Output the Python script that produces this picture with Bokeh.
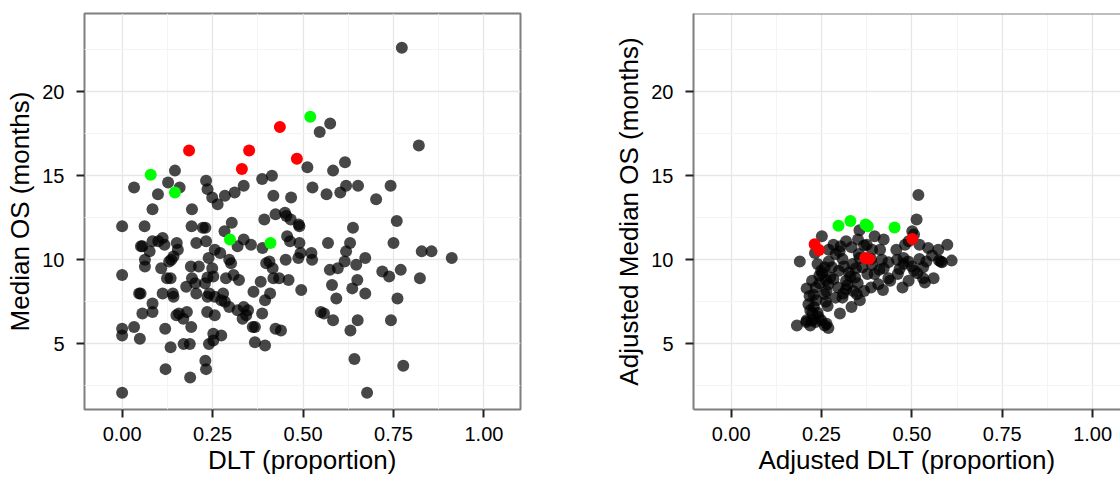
from bokeh.plotting import figure
from bokeh.models import FixedTicker, NumeralTickFormatter, Range1d, Span
from bokeh.layouts import row
from bokeh.embed import file_html
from bokeh.resources import INLINE

# ---------------- axes / ticks ----------------
x_ticks = [0.0, 0.25, 0.5, 0.75, 1.0]
x_minor = [0.125, 0.375, 0.625, 0.875]
y_ticks = [5, 10, 15, 20]
y_minor = [2.5, 7.5, 12.5, 17.5, 22.5]

left_xlabel = "DLT (proportion)"
left_ylabel = "Median OS (months)"
right_xlabel = "Adjusted DLT (proportion)"
right_ylabel = "Adjusted Median OS (months)"

# ---------------- left panel data ----------------
left_dlt = [0.773, 0.82, 0.575, 0.546, 0.512, 0.583, 0.616, 0.526, 0.565, 0.603,
            0.619, 0.652, 0.742, 0.702, 0.414, 0.387, 0.336, 0.311, 0.284, 0.232,
            0.236, 0.249, 0.264, 0.146, 0.127, 0.159, 0.099, 0.033, 0.084, 0.193,
            0.418, 0.467, 0.393, 0.424, 0.450, 0.454, 0.466, 0.488, 0.490, 0.303,
            0.283, 0.230, 0.223, 0.192, 0.062, 0.0, 0.638, 0.759, 0.456, 0.464,
            0.490, 0.569, 0.630, 0.750, 0.336, 0.356, 0.319, 0.388, 0.232, 0.205,
            0.151, 0.154, 0.112, 0.100, 0.117, 0.084, 0.056, 0.052, 0.076, 0.063,
            0.063, 0.0, 0.256, 0.271, 0.239, 0.296, 0.301, 0.249, 0.212, 0.190,
            0.108, 0.136, 0.142, 0.130, 0.134, 0.124, 0.112, 0.140, 0.142, 0.051,
            0.047, 0.084, 0.084, 0.056, 0.0, 0.0, 0.033, 0.049, 0.119, 0.134,
            0.12, 0.0, 0.188, 0.230, 0.232, 0.240, 0.252, 0.252, 0.274, 0.170,
            0.187, 0.191, 0.169, 0.157, 0.179, 0.150, 0.177, 0.193, 0.202, 0.205,
            0.229, 0.236, 0.252, 0.241, 0.256, 0.236, 0.274, 0.279, 0.284, 0.296,
            0.235, 0.256, 0.287, 0.308, 0.323, 0.319, 0.336, 0.348, 0.333, 0.343,
            0.361, 0.367, 0.363, 0.383, 0.395, 0.409, 0.387, 0.398, 0.407, 0.416,
            0.418, 0.434, 0.367, 0.395, 0.424, 0.439, 0.452, 0.460, 0.487, 0.495,
            0.523, 0.525, 0.493, 0.549, 0.558, 0.583, 0.574, 0.596, 0.580, 0.592,
            0.615, 0.619, 0.647, 0.650, 0.636, 0.672, 0.672, 0.651, 0.631, 0.642,
            0.677, 0.719, 0.738, 0.770, 0.761, 0.743, 0.777, 0.823, 0.828, 0.855,
            0.911]
left_os = [22.6, 16.8, 18.1, 17.6, 15.5, 15.3, 15.8, 14.3, 13.9, 14.0,
           14.4, 14.4, 14.4, 13.6, 15.0, 14.8, 14.4, 14.0, 13.8, 14.7,
           14.2, 13.7, 13.3, 15.3, 14.6, 14.3, 13.9, 14.3, 13.0, 13.0,
           13.8, 13.7, 12.4, 12.7, 12.8, 12.6, 12.4, 12.1, 12.0, 12.2,
           11.7, 11.9, 11.9, 12.0, 12.0, 12.0, 11.9, 12.3, 11.4, 11.1,
           11.0, 11.0, 11.0, 11.0, 11.2, 10.9, 10.8, 10.7, 11.1, 11.0,
           11.0, 10.6, 11.3, 11.1, 10.9, 11.1, 10.8, 10.8, 10.5, 10.0,
           9.6, 9.1, 10.6, 10.4, 10.1, 10.0, 9.8, 9.5, 9.6, 9.6,
           9.5, 10.0, 10.2, 9.9, 8.9, 8.9, 8.0, 8.0, 7.8, 8.0,
           8.0, 7.4, 6.9, 6.8, 5.9, 5.5, 6.0, 5.3, 5.9, 4.8,
           3.5, 2.1, 3.0, 4.0, 3.5, 5.0, 5.2, 5.6, 5.5, 5.0,
           5.0, 6.0, 6.5, 6.8, 6.9, 6.7, 8.4, 8.9, 8.6, 8.0,
           8.6, 8.95, 9.0, 8.0, 7.8, 7.8, 7.6, 8.0, 7.5, 7.2,
           6.9, 6.7, 8.9, 9.1, 8.8, 7.0, 7.2, 7.0, 6.5, 6.7,
           6.0, 6.0, 8.1, 8.7, 7.6, 8.0, 6.8, 9.8, 9.9, 9.5,
           8.9, 8.9, 5.1, 4.9, 5.9, 5.8, 10.0, 8.8, 10.1, 8.2,
           10.4, 10.0, 10.4, 6.9, 6.8, 6.4, 9.4, 9.5, 8.5, 7.7,
           9.9, 10.5, 9.7, 8.8, 8.3, 10.1, 8.0, 6.4, 5.8, 4.1,
           2.1, 9.3, 9.0, 9.4, 7.7, 6.4, 3.7, 8.9, 10.5, 10.5,
           10.1]
left_red_dlt = [0.185, 0.351, 0.331, 0.436, 0.483]
left_red_os = [16.5, 16.5, 15.4, 17.9, 16.0]
left_green_dlt = [0.079, 0.146, 0.298, 0.410, 0.520]
left_green_os = [15.05, 14.0, 11.2, 11.0, 18.5]

# ---------------- right panel data ----------------
right_dlt = [0.518, 0.513, 0.501, 0.506, 0.190, 0.182, 0.208, 0.219, 0.234, 0.249,
             0.264, 0.269, 0.259, 0.251, 0.355, 0.351, 0.375, 0.397, 0.422, 0.390,
             0.417, 0.422, 0.440, 0.420, 0.387, 0.356, 0.333, 0.301, 0.457, 0.459,
             0.474, 0.491, 0.481, 0.545, 0.573, 0.598, 0.583, 0.610, 0.536, 0.560,
             0.531, 0.506, 0.521, 0.556, 0.477, 0.466, 0.289, 0.279, 0.249, 0.234,
             0.217, 0.209, 0.229, 0.239, 0.267, 0.289, 0.308, 0.296, 0.318, 0.326,
             0.336, 0.308, 0.303, 0.283, 0.318, 0.269, 0.259, 0.274, 0.343, 0.348,
             0.368, 0.377, 0.397, 0.407, 0.363, 0.387, 0.239, 0.232, 0.259, 0.244,
             0.219, 0.224, 0.477, 0.531, 0.491, 0.521, 0.461, 0.435, 0.412, 0.353,
             0.368, 0.333, 0.298, 0.283, 0.318, 0.338, 0.264, 0.224, 0.214, 0.209,
             0.575, 0.435, 0.580, 0.245, 0.252, 0.236, 0.228, 0.262, 0.270, 0.300,
             0.312, 0.322, 0.330, 0.345, 0.350, 0.355, 0.310, 0.262, 0.225, 0.242,
             0.270, 0.390, 0.410, 0.490, 0.500, 0.515, 0.540]
right_os = [13.85, 12.4, 11.7, 11.5, 9.9, 6.1, 6.3, 6.1, 6.3, 6.4,
            6.2, 5.95, 6.1, 11.4, 11.75, 11.2, 10.9, 11.4, 11.2, 10.6,
            10.0, 9.5, 8.75, 8.2, 8.35, 7.6, 7.2, 6.8, 10.6, 10.0,
            8.35, 8.75, 10.9, 10.7, 10.6, 10.9, 9.85, 9.95, 8.65, 8.9,
            9.55, 9.35, 10.05, 10.25, 9.75, 9.45, 10.35, 9.55, 9.35, 8.35,
            7.85, 8.3, 7.2, 6.85, 7.25, 7.75, 7.75, 8.35, 8.75, 9.25,
            9.75, 10.05, 10.8, 10.9, 11.1, 8.55, 7.95, 8.95, 8.95, 7.95,
            8.15, 9.15, 9.15, 8.55, 9.55, 10.05, 9.75, 10.4, 9.55, 9.05,
            7.0, 6.4, 10.1, 8.9, 11.1, 10.9, 9.15, 9.85, 10.6, 10.35,
            10.85, 10.75, 9.35, 8.85, 8.25, 8.15, 8.15, 8.75, 7.35, 6.4,
            9.95, 8.9, 9.9, 8.6, 9.2, 7.6, 7.9, 8.8, 9.9, 10.5,
            9.6, 8.5, 9.0, 9.5, 8.6, 10.1, 8.0, 7.5, 6.8, 6.6,
            10.6, 9.7, 9.4, 9.9, 9.6, 9.2, 9.9]
right_red_dlt = [0.231, 0.243, 0.371, 0.382, 0.501]
right_red_os = [10.93, 10.58, 10.1, 10.04, 11.23]
right_green_dlt = [0.297, 0.330, 0.372, 0.378, 0.452]
right_green_os = [12.02, 12.30, 12.1, 12.0, 11.92]

FONT = "Liberation Sans"
BORDER = "#7F7F7F"


def make_fig(min_left, min_right, x_end, xlabel, ylabel, full_outline):
    p = figure(width=560, height=478,
               x_range=Range1d(-0.104, x_end), y_range=Range1d(1.10, 24.64),
               output_backend="svg", toolbar_location=None,
               min_border_left=min_left, min_border_right=min_right,
               min_border_top=13, min_border_bottom=69,
               background_fill_color="white", border_fill_color="white")
    xt = FixedTicker(ticks=x_ticks, minor_ticks=x_minor)
    yt = FixedTicker(ticks=y_ticks, minor_ticks=y_minor)
    p.xaxis.ticker = xt
    p.yaxis.ticker = yt
    p.xgrid.ticker = xt
    p.ygrid.ticker = yt
    p.xaxis.formatter = NumeralTickFormatter(format="0.00")
    p.grid.grid_line_color = "#E6E6E6"
    p.grid.grid_line_width = 1.3
    p.grid.minor_grid_line_color = "#F4F4F4"
    p.grid.minor_grid_line_width = 1

    p.axis.major_tick_out = 8
    p.axis.major_tick_in = 0
    p.axis.minor_tick_out = 0
    p.axis.minor_tick_in = 0
    p.axis.major_tick_line_color = "#222222"
    p.axis.major_tick_line_width = 2
    p.axis.major_label_text_font = FONT
    p.axis.major_label_text_font_size = "20px"
    p.axis.major_label_text_color = "black"
    p.axis.axis_label_text_font = FONT
    p.axis.axis_label_text_font_size = "26px"
    p.axis.axis_label_text_font_style = "normal"
    p.axis.axis_label_text_color = "black"
    p.xaxis.major_label_standoff = 9
    p.xaxis.axis_label_standoff = 1
    p.yaxis.major_label_standoff = 12
    p.yaxis.axis_label_standoff = 4
    p.xaxis.axis_label = xlabel
    p.yaxis.axis_label = ylabel

    if full_outline:
        p.outline_line_color = BORDER
        p.outline_line_width = 2
        p.axis.axis_line_color = None
    else:
        p.outline_line_color = None
        p.axis.axis_line_color = BORDER
        p.axis.axis_line_width = 2
        p.add_layout(Span(location=24.64, dimension="width",
                          line_color=BORDER, line_width=2))
    return p


def add_points(p, dx, dy, rx, ry, gx, gy):
    p.scatter(dx, dy, size=12, fill_color="black", fill_alpha=0.72, line_color=None)
    p.scatter(rx, ry, size=12, fill_color="#FF0000", line_color=None)
    p.scatter(gx, gy, size=12, fill_color="#00FF00", line_color=None)


p1 = make_fig(84, 40, 1.101, left_xlabel, left_ylabel, True)
add_points(p1, left_dlt, left_os, left_red_dlt, left_red_os, left_green_dlt, left_green_os)

p2 = make_fig(133, 0, 1.077, right_xlabel, right_ylabel, False)
add_points(p2, right_dlt, right_os, right_red_dlt, right_red_os, right_green_dlt, right_green_os)

layout = row(p1, p2)
open("out.html", "w").write(file_html(layout, INLINE))
